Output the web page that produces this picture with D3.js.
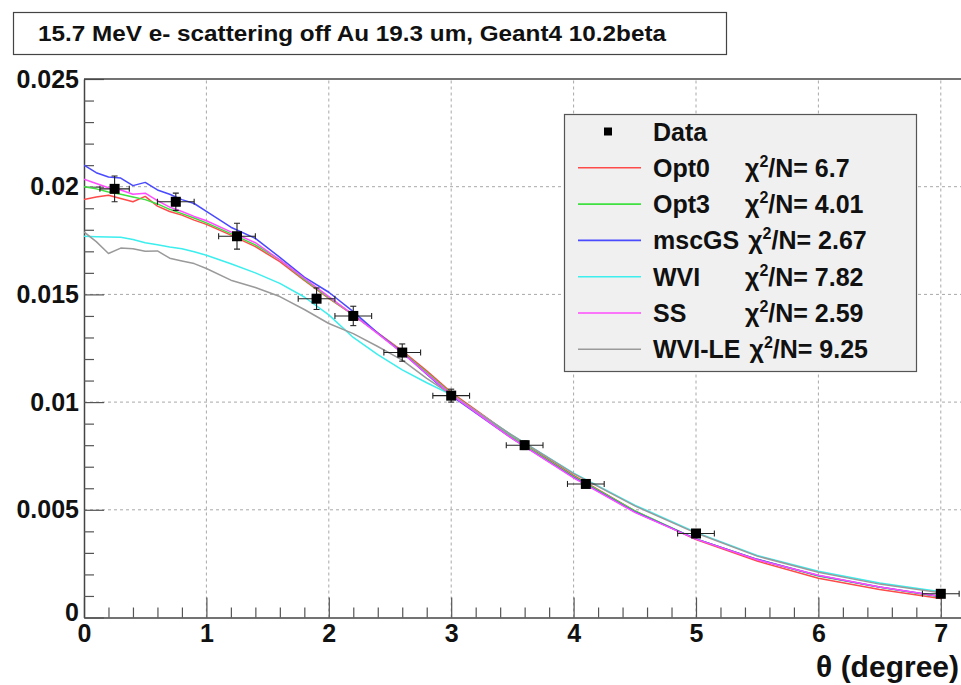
<!DOCTYPE html>
<html>
<head>
<meta charset="utf-8">
<script src="https://cdn.jsdelivr.net/npm/d3@7/dist/d3.min.js"></script>
<style>
  html, body { margin: 0; padding: 0; background: #fff; }
  svg { display: block; font-family: "Liberation Sans", Arial, Helvetica, sans-serif; }
</style>
</head>
<body>
<svg id="chart" width="961" height="685"></svg>
<script>
// Angular distribution of 15.7 MeV electrons scattered off a 19.3 um gold foil.
const titleText = "15.7 MeV e- scattering off Au 19.3 um, Geant4 10.2beta";
const xTitle = "\u03b8 (degree)";

// Simulation curves share one theta grid (degrees)
const theta = [0.0,0.1,0.2,0.3,0.4,0.5,0.6,0.7,0.8,0.9,1.0,1.2,1.4,1.6,1.8,2.0,2.2,2.4,2.6,2.8,3.0,3.5,4.0,4.5,5.0,5.5,6.0,6.5,7.0];

const opt0  = [0.01940,0.01952,0.01960,0.01945,0.01930,0.01955,0.01910,0.01885,0.01868,0.01845,0.01825,0.01775,0.01722,0.01652,0.01565,0.01482,0.01405,0.01322,0.01238,0.01145,0.01045,0.00842,0.00660,0.00495,0.00362,0.00262,0.00182,0.00130,0.00088];
const opt3  = [0.02000,0.01990,0.01975,0.01965,0.01952,0.01940,0.01920,0.01895,0.01875,0.01855,0.01832,0.01782,0.01730,0.01660,0.01570,0.01485,0.01405,0.01320,0.01232,0.01138,0.01040,0.00835,0.00655,0.00495,0.00365,0.00270,0.00193,0.00140,0.00095];
const mscGS = [0.02100,0.02065,0.02045,0.02040,0.02005,0.02020,0.01985,0.01965,0.01940,0.01922,0.01885,0.01812,0.01760,0.01672,0.01580,0.01510,0.01420,0.01320,0.01230,0.01130,0.01030,0.00830,0.00650,0.00490,0.00365,0.00270,0.00195,0.00142,0.00098];
const wvi   = [0.01770,0.01768,0.01767,0.01765,0.01755,0.01740,0.01730,0.01720,0.01712,0.01698,0.01682,0.01642,0.01600,0.01551,0.01488,0.01405,0.01300,0.01220,0.01150,0.01090,0.01035,0.00845,0.00670,0.00522,0.00395,0.00288,0.00215,0.00160,0.00120];
const ss    = [0.02035,0.02015,0.01995,0.01985,0.01965,0.01970,0.01935,0.01905,0.01885,0.01862,0.01842,0.01790,0.01740,0.01660,0.01575,0.01490,0.01405,0.01318,0.01228,0.01132,0.01035,0.00830,0.00648,0.00488,0.00364,0.00268,0.00196,0.00142,0.00098];
const wviLE = [0.01790,0.01745,0.01690,0.01715,0.01712,0.01700,0.01702,0.01668,0.01655,0.01643,0.01620,0.01566,0.01532,0.01490,0.01430,0.01365,0.01318,0.01258,0.01195,0.01110,0.01035,0.00845,0.00668,0.00518,0.00392,0.00285,0.00210,0.00155,0.00115];

// Measured points
const dataTheta = [0.25,0.75,1.25,1.9,2.2,2.6,3.0,3.6,4.1,5.0,7.0];
const dataValue = [0.0199,0.0193,0.0177,0.0148,0.0140,0.0123,0.0103,0.0080,0.0062,0.0039,0.0011];
const dataThetaErr = [0.12,0.15,0.15,0.15,0.15,0.15,0.15,0.15,0.15,0.15,0.15];
const dataValueErr = [0.0006,0.0004,0.0006,0.0005,0.00045,0.0004,0.0003,0.0002,0.00015,0.0001,0.00005];

// Legend entries
const seriesNames = ["Opt0","Opt3","mscGS","WVI","SS","WVI-LE"];
const seriesChi2  = ["6.7","4.01","2.67","7.82","2.59","9.25"];
const seriesColors = ["#ff4a4a","#3fe03f","#4a4aff","#3ceeee","#ff4cff","#9a9a9a"];
const seriesValues = [opt0, opt3, mscGS, wvi, ss, wviLE];
const drawOrder = [0,1,2,3,5,4];

const xMajor = [0,1,2,3,4,5,6,7];
const yMajor = [0,0.005,0.01,0.015,0.02,0.025];

const svg = d3.select("#chart");
const x0 = 84, y0 = 617.5, yTop = 79;
const x = d3.scaleLinear().domain([0, 7.3]).range([x0, x0 + 7.3 * 122.4]);
const y = d3.scaleLinear().domain([0, 0.025]).range([y0, yTop]);
const xRight = 961;

svg.append("defs").append("clipPath").attr("id", "plotclip")
  .append("rect").attr("x", x0).attr("y", yTop).attr("width", xRight - x0).attr("height", y0 - yTop);

// grid
const grid = svg.append("g").attr("stroke", "#a8a8a8").attr("stroke-width", 1).attr("stroke-dasharray", "3,3");
grid.selectAll("line.gx").data(xMajor.filter(d => d > 0)).join("line")
  .attr("x1", d => x(d)).attr("x2", d => x(d)).attr("y1", y0).attr("y2", yTop);
grid.selectAll("line.gy").data(yMajor.filter(d => d > 0 && d < 0.025)).join("line")
  .attr("x1", x0).attr("x2", xRight).attr("y1", d => y(d)).attr("y2", d => y(d));

// axes
const fmtY = d => d === 0 ? "0" : String(+d.toFixed(3));
const xMinor = d3.range(0, 37).map(i => i * 0.2).filter(v => Math.abs(v - Math.round(v)) > 1e-6);
const yMinor = d3.range(0, 26).map(i => i * 0.001).filter(v => Math.abs(v / 0.005 - Math.round(v / 0.005)) > 1e-6);

const xAxisG = svg.append("g").attr("transform", `translate(0,${y0})`)
  .call(d3.axisBottom(x).tickValues(xMajor).tickFormat(d3.format("d")).tickSize(-20).tickPadding(5).tickSizeOuter(0));
svg.append("g").attr("transform", `translate(0,${y0})`)
  .call(d3.axisBottom(x).tickValues(xMinor).tickFormat("").tickSize(-10).tickSizeOuter(0))
  .select(".domain").remove();
const yAxisG = svg.append("g").attr("transform", `translate(${x0},0)`)
  .call(d3.axisLeft(y).tickValues(yMajor).tickFormat(fmtY).tickSize(-20).tickPadding(5).tickSizeOuter(0));
svg.append("g").attr("transform", `translate(${x0},0)`)
  .call(d3.axisLeft(y).tickValues(yMinor).tickFormat("").tickSize(-10).tickSizeOuter(0))
  .select(".domain").remove();

svg.selectAll(".tick line").attr("stroke", "#555").attr("stroke-width", 1.2);
svg.selectAll(".domain").attr("stroke", "#444").attr("stroke-width", 1.5);
xAxisG.selectAll("text").attr("font-size", 25).attr("font-weight", "bold").attr("fill", "#111").attr("dy", "0.76em");
yAxisG.selectAll("text").attr("font-size", 25).attr("font-weight", "bold").attr("fill", "#111");
yAxisG.selectAll(".tick").filter(d => d === 0).select("text").attr("dy", "0.1em");

// top frame
svg.append("line").attr("x1", x0).attr("x2", xRight).attr("y1", yTop).attr("y2", yTop)
  .attr("stroke", "#444").attr("stroke-width", 1.5);

// curves
const plot = svg.append("g").attr("clip-path", "url(#plotclip)");
const line = d3.line().x((d, i) => x(theta[i])).y(d => y(d));
drawOrder.forEach(k => {
  plot.append("path").datum(seriesValues[k])
    .attr("fill", "none").attr("stroke", seriesColors[k]).attr("stroke-width", 1.5)
    .attr("stroke-linejoin", "round").attr("d", line);
});

// data points with error bars
const pts = plot.append("g").selectAll("g").data(dataTheta.map((t, i) => i)).join("g");
const cap = 3;
pts.append("line").attr("stroke", "#222").attr("stroke-width", 1.1)
  .attr("x1", i => x(dataTheta[i] - dataThetaErr[i])).attr("x2", i => x(dataTheta[i] + dataThetaErr[i]))
  .attr("y1", i => y(dataValue[i])).attr("y2", i => y(dataValue[i]));
pts.append("line").attr("stroke", "#222").attr("stroke-width", 1.1)
  .attr("x1", i => x(dataTheta[i])).attr("x2", i => x(dataTheta[i]))
  .attr("y1", i => y(dataValue[i] - dataValueErr[i])).attr("y2", i => y(dataValue[i] + dataValueErr[i]));
[-1, 1].forEach(s => {
  pts.append("line").attr("stroke", "#222").attr("stroke-width", 1.1)
    .attr("x1", i => x(dataTheta[i] + s * dataThetaErr[i])).attr("x2", i => x(dataTheta[i] + s * dataThetaErr[i]))
    .attr("y1", i => y(dataValue[i]) - cap).attr("y2", i => y(dataValue[i]) + cap);
  pts.append("line").attr("stroke", "#222").attr("stroke-width", 1.1)
    .attr("x1", i => x(dataTheta[i]) - cap).attr("x2", i => x(dataTheta[i]) + cap)
    .attr("y1", i => y(dataValue[i] + s * dataValueErr[i])).attr("y2", i => y(dataValue[i] + s * dataValueErr[i]));
});
pts.append("rect").attr("fill", "#000")
  .attr("x", i => x(dataTheta[i]) - 5).attr("y", i => y(dataValue[i]) - 5)
  .attr("width", 10).attr("height", 10);

// axis title
svg.append("text").attr("x", 959).attr("y", 677).attr("text-anchor", "end")
  .attr("font-size", 30).attr("font-weight", "bold").attr("fill", "#111").text(xTitle);

// title box
svg.append("rect").attr("x", 13.5).attr("y", 12.5).attr("width", 713).attr("height", 42)
  .attr("fill", "#fff").attr("stroke", "#444").attr("stroke-width", 1.2);
svg.append("text").attr("x", 38).attr("y", 41).attr("font-size", 22).attr("font-weight", "bold").attr("fill", "#111")
  .attr("textLength", 628).attr("lengthAdjust", "spacingAndGlyphs")
  .text(titleText);

// legend
const lg = svg.append("g");
lg.append("rect").attr("x", 564.5).attr("y", 114.5).attr("width", 352).attr("height", 257)
  .attr("fill", "#f0f0f0").attr("stroke", "#555").attr("stroke-width", 1.2);
const rowY = i => 131.5 + 36.3 * i;
lg.append("rect").attr("x", 604).attr("y", rowY(0) - 4).attr("width", 8).attr("height", 8).attr("fill", "#000");
lg.append("text").attr("x", 653).attr("y", rowY(0)).attr("dy", "0.36em")
  .attr("font-size", 25).attr("font-weight", "bold").attr("fill", "#111").text("Data");
seriesNames.forEach((name, k) => {
  const yy = rowY(k + 1);
  lg.append("line").attr("x1", 578).attr("x2", 641).attr("y1", yy).attr("y2", yy)
    .attr("stroke", seriesColors[k]).attr("stroke-width", 1.6);
  const nt = lg.append("text").attr("x", 653).attr("y", yy).attr("dy", "0.36em")
    .attr("font-size", 25).attr("font-weight", "bold").attr("fill", "#111").text(name);
  const endX = 653 + nt.node().getComputedTextLength();
  const cx = Math.max(745, endX + 9);
  const ct = lg.append("text").attr("x", cx).attr("y", yy).attr("dy", "0.36em")
    .attr("font-size", 25).attr("font-weight", "bold").attr("fill", "#111");
  ct.append("tspan").text("\u03c7");
  ct.append("tspan").attr("font-size", 16).attr("dy", "-0.62em").text("2");
  ct.append("tspan").attr("dy", "0.39em").text("/N= " + seriesChi2[k]);
});
</script>
</body>
</html>
